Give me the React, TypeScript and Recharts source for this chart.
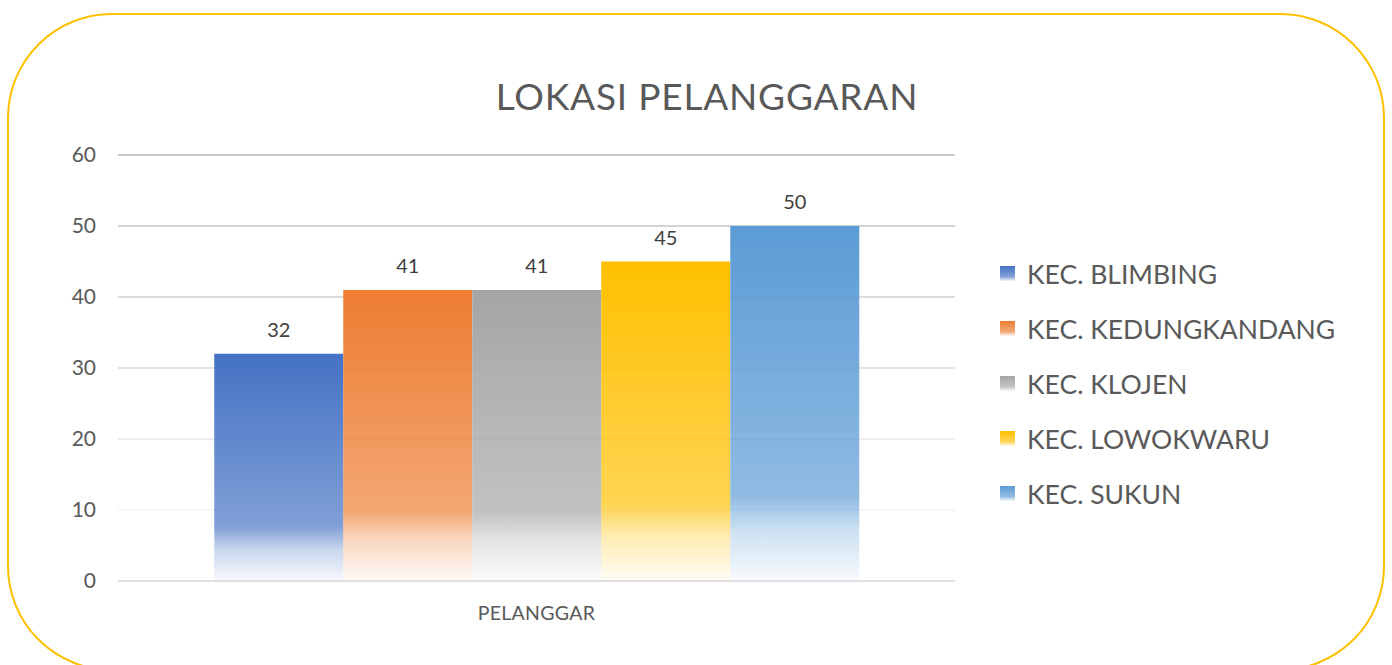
import { BarChart, Bar, XAxis, YAxis, CartesianGrid, LabelList, Legend } from "recharts";

const categories = ["PELANGGAR"];
const seriesNames = ["KEC. BLIMBING", "KEC. KEDUNGKANDANG", "KEC. KLOJEN", "KEC. LOWOKWARU", "KEC. SUKUN"];
const seriesKeys = ["blimbing", "kedungkandang", "klojen", "lowokwaru", "sukun"];
const seriesValues = [32, 41, 41, 45, 50];
const seriesColors = ["#4472C4", "#ED7D31", "#A5A5A5", "#FFC000", "#5B9BD5"];
const yTicks = [0, 10, 20, 30, 40, 50, 60];

const data = categories.map((name) => {
  const row: Record<string, string | number> = { name };
  seriesKeys.forEach((k, i) => (row[k] = seriesValues[i]));
  return row;
});

const FONT = "Lato, 'Open Sans', sans-serif";

const LegendContent = () => (
  <div style={{ fontFamily: FONT }}>
    {seriesNames.map((n, i) => (
      <div key={n} style={{ display: "flex", alignItems: "center", height: 55 }}>
        <div
          style={{
            width: 15,
            height: 15,
            marginRight: 12,
            background: `linear-gradient(to bottom, ${seriesColors[i]} 0%, ${seriesColors[i]}aa 70%, ${seriesColors[i]}10 100%)`,
          }}
        />
        <span style={{ fontSize: 26.5, color: "#595959" }}>{n}</span>
      </div>
    ))}
  </div>
);

export default function App() {
  return (
    <div
      style={{
        position: "absolute",
        left: 0,
        top: 0,
        width: 1392,
        height: 665,
        overflow: "hidden",
        background: "#fff",
      }}
    >
      <div
        style={{
          position: "absolute",
          left: 7,
          top: 13,
          width: 1374,
          height: 654,
          border: "2px solid #FFC000",
          borderRadius: 105,
        }}
      />
      <div
        style={{
          position: "absolute",
          left: 0,
          width: 1414,
          top: 73,
          textAlign: "center",
          fontFamily: FONT,
          fontSize: 37,
          color: "#595959",
          letterSpacing: 0.8,
          fontWeight: 400,
        }}
      >
        LOKASI PELANGGARAN
      </div>
      <div style={{ position: "absolute", left: 0, top: 0 }}>
        <BarChart
          width={1392}
          height={665}
          data={data}
          margin={{ top: 155, right: 437, bottom: 54, left: 0 }}
          barCategoryGap="11.5%"
          barGap={0}
        >
          <defs>
            {seriesKeys.map((k, i) => (
              <linearGradient key={k} id={`grad-${k}`} x1="0" y1="0" x2="0" y2="1">
                <stop offset="0%" stopColor={seriesColors[i]} stopOpacity={1} />
                <stop offset="76%" stopColor={seriesColors[i]} stopOpacity={0.68} />
                <stop offset="86%" stopColor={seriesColors[i]} stopOpacity={0.3} />
                <stop offset="100%" stopColor={seriesColors[i]} stopOpacity={0.04} />
              </linearGradient>
            ))}
            <linearGradient id="gridGrad" gradientUnits="userSpaceOnUse" x1="0" y1="150" x2="0" y2="520">
              <stop offset="0%" stopColor="#B8B8B8" />
              <stop offset="100%" stopColor="#F3F3F3" />
            </linearGradient>
          </defs>
          <CartesianGrid vertical={false} stroke="url(#gridGrad)" strokeWidth={1.5} />
          <XAxis
            dataKey="name"
            height={30}
            axisLine={{ stroke: "#D9D9D9", strokeWidth: 1.5 }}
            tickLine={false}
            tickMargin={19}
            tick={{ fontSize: 19.5, fill: "#595959", fontFamily: FONT, letterSpacing: 0.3 }}
          />
          <YAxis
            domain={[0, 60]}
            ticks={yTicks}
            width={118}
            axisLine={false}
            tickLine={false}
            tickSize={0}
            tickMargin={22}
            tick={{ fontSize: 21, fill: "#595959", fontFamily: FONT }}
          />
          <Legend
            layout="vertical"
            align="center"
            verticalAlign="middle"
            content={<LegendContent />}
            wrapperStyle={{ left: 1000, top: 246, width: 390 }}
          />
          {seriesKeys.map((k, i) => (
            <Bar
              key={k}
              dataKey={k}
              name={seriesNames[i]}
              fill={`url(#grad-${k})`}
              isAnimationActive={false}
            >
              <LabelList
                dataKey={k}
                position="top"
                offset={17}
                style={{ fontSize: 20, fill: "#404040", fontFamily: FONT }}
              />
            </Bar>
          ))}
        </BarChart>
      </div>
    </div>
  );
}
